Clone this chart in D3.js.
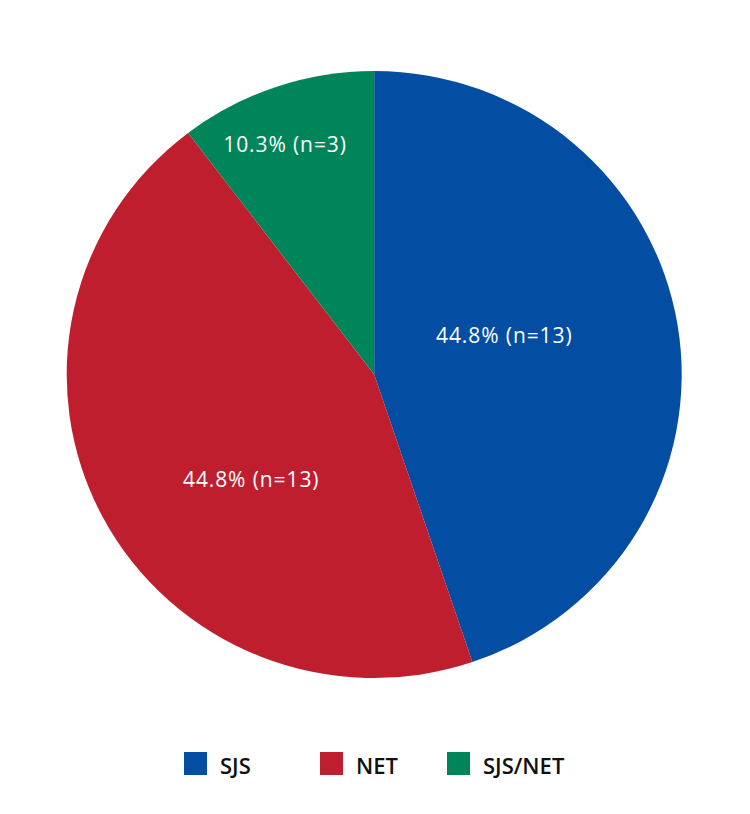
<!DOCTYPE html>
<html><head><meta charset="utf-8">
<script src="https://cdn.jsdelivr.net/npm/d3@7"></script>
<style>body{margin:0;background:#fff}svg{display:block}</style>
</head><body>
<svg id="c" width="750" height="814"></svg>
<script>
const categories = ["SJS", "NET", "SJS/NET"];
const counts = [13, 13, 3];
const percentLabels = ["44.8%", "44.8%", "10.3%"];
const colors = ["#034ea2", "#be1e2d", "#00855a"];
// label anchor positions as fraction of radius (x, y) relative to centre
const labelPos = [[0.423, -0.13], [-0.40, 0.345], [-0.29, -0.76]];

const svg = d3.select("#c");
const cx = 374.2, cy = 374.5, rx = 307.5, ry = 303.5;
const R = 300;

const pie = d3.pie().sort(null).value(d => d)(counts);
const arc = d3.arc().innerRadius(0).outerRadius(R);

const g = svg.append("g").attr("transform", `translate(${cx},${cy})`);
g.append("g").attr("transform", `scale(${rx/R},${ry/R})`)
  .selectAll("path").data(pie).join("path")
  .attr("d", arc).attr("fill", (d, i) => colors[i]);

g.selectAll("text").data(pie).join("text")
  .attr("x", (d, i) => labelPos[i][0] * rx)
  .attr("y", (d, i) => labelPos[i][1] * ry)
  .attr("text-anchor", "middle").attr("dominant-baseline", "central")
  .attr("fill", "#fff").attr("font-family", "Open Sans").attr("font-weight", 500)
  .attr("font-size", 21).attr("letter-spacing", 0.9)
  .text((d, i) => `${percentLabels[i]} (n=${counts[i]})`);

const legX = d3.scaleOrdinal().domain(categories).range([184, 320, 447]);
const leg = svg.append("g").selectAll("g").data(categories).join("g")
  .attr("transform", d => `translate(${legX(d)},752)`);
leg.append("rect").attr("width", 23).attr("height", 23).attr("fill", (d, i) => colors[i]);
leg.append("text").attr("x", 36).attr("y", 22)
  .attr("font-family", "Open Sans").attr("font-weight", 600).attr("font-size", 22)
  .attr("fill", "#111").text(d => d);
</script>
</body></html>
